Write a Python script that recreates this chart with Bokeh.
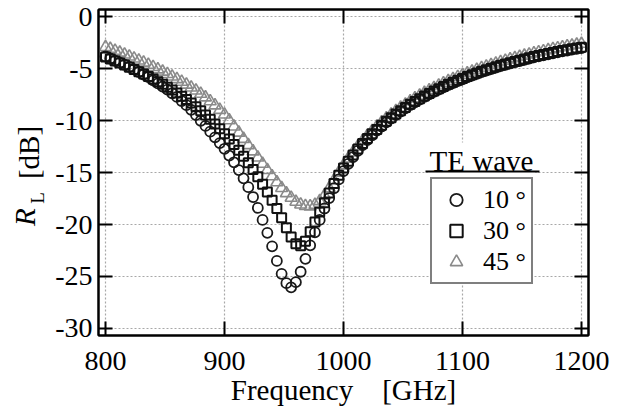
from bokeh.plotting import figure
from bokeh.layouts import row
from bokeh.models import (Range1d, FixedTicker, LinearAxis, Legend, LegendItem,
                          Label, BoxAnnotation)
from bokeh.core.properties import value
from bokeh.embed import file_html
from bokeh.resources import INLINE

# ---- data ----
freq = list(range(800, 1204, 4))  # GHz

rl_10 = [-3.80, -4.00, -4.20, -4.40, -4.60, -4.80, -5.05, -5.30, -5.55, -5.80,
         -6.10, -6.40, -6.70, -7.00, -7.35, -7.70, -8.10, -8.50, -8.95, -9.45,
         -10.00, -10.50, -11.05, -11.60, -12.15, -12.70, -13.35, -14.00, -14.75, -15.55,
         -16.40, -17.35, -18.40, -19.55, -20.80, -22.10, -23.50, -24.75, -25.65, -26.05,
         -25.55, -24.55, -23.30, -22.00, -20.75, -19.55, -18.45, -17.45, -16.50, -15.65,
         -14.85, -14.15, -13.50, -12.90, -12.35, -11.85, -11.40, -10.95, -10.55, -10.15,
         -9.80, -9.45, -9.12, -8.80, -8.50, -8.22, -7.95, -7.70, -7.45, -7.22,
         -7.00, -6.78, -6.57, -6.37, -6.18, -6.00, -5.82, -5.65, -5.48, -5.32,
         -5.17, -5.02, -4.88, -4.74, -4.61, -4.48, -4.36, -4.24, -4.12, -4.01,
         -3.90, -3.80, -3.70, -3.60, -3.50, -3.41, -3.32, -3.23, -3.15, -3.07,
         -2.99]

rl_30 = [-3.85, -4.04, -4.23, -4.43, -4.63, -4.84, -5.05, -5.27, -5.50, -5.74,
         -5.98, -6.23, -6.49, -6.76, -7.04, -7.33, -7.64, -7.96, -8.30, -8.66,
         -9.04, -9.44, -9.86, -10.30, -10.76, -11.24, -11.75, -12.28, -12.84, -13.43,
         -14.05, -14.70, -15.40, -16.12, -16.87, -17.65, -18.45, -19.35, -20.30, -21.20,
         -21.85, -22.05, -21.60, -20.70, -19.75, -18.80, -17.90, -16.95, -16.05, -15.25,
         -14.55, -13.90, -13.30, -12.73, -12.20, -11.71, -11.26, -10.83, -10.43, -10.05,
         -9.70, -9.36, -9.03, -8.72, -8.42, -8.14, -7.87, -7.62, -7.37, -7.14,
         -6.92, -6.70, -6.49, -6.29, -6.10, -5.92, -5.74, -5.57, -5.40, -5.24,
         -5.09, -4.94, -4.80, -4.66, -4.53, -4.40, -4.28, -4.16, -4.04, -3.93,
         -3.82, -3.72, -3.62, -3.52, -3.42, -3.33, -3.24, -3.15, -3.07, -2.99,
         -2.91]

rl_45 = [-2.90, -3.08, -3.26, -3.44, -3.62, -3.81, -4.00, -4.20, -4.40, -4.61,
         -4.83, -5.05, -5.27, -5.50, -5.74, -5.99, -6.25, -6.52, -6.80, -7.09,
         -7.40, -7.75, -8.12, -8.52, -8.95, -9.40, -9.95, -10.55, -11.15, -11.75,
         -12.35, -12.95, -13.55, -14.15, -14.75, -15.35, -15.93, -16.48, -16.98, -17.42,
         -17.80, -18.07, -18.22, -18.25, -18.10, -17.75, -17.20, -16.50, -15.75, -15.00,
         -14.30, -13.65, -13.05, -12.48, -11.95, -11.46, -11.00, -10.57, -10.16, -9.77,
         -9.41, -9.07, -8.74, -8.43, -8.13, -7.85, -7.58, -7.32, -7.07, -6.84,
         -6.61, -6.39, -6.18, -5.98, -5.79, -5.61, -5.43, -5.26, -5.09, -4.93,
         -4.78, -4.63, -4.49, -4.35, -4.22, -4.09, -3.97, -3.85, -3.73, -3.62,
         -3.51, -3.40, -3.30, -3.20, -3.10, -3.01, -2.92, -2.83, -2.75, -2.67,
         -2.59]

x_ticks = [800, 900, 1000, 1100, 1200]
y_ticks = [-30, -25, -20, -15, -10, -5, 0]
x_title = "Frequency\u00a0\u00a0\u00a0\u00a0[GHz]"
legend_title = "TE wave"
legend_labels = ["10 °", "30 °", "45 °"]

FONT = "Liberation Serif"
H = 408
STRIP = 52

# ---- narrow strip holding the y-axis title (R_L [dB]) ----
lab = figure(width=STRIP, height=H, output_backend="svg", toolbar_location=None,
             x_range=Range1d(0, STRIP), y_range=Range1d(0, H),
             x_axis_location=None, y_axis_location=None, min_border=0,
             background_fill_color="white", border_fill_color="white")
lab.outline_line_color = None
lab.grid.visible = False
lab.text(x=[24], y=[H - 260], text=["R"], angle=1.5708,
         text_font=value(FONT), text_font_style="italic",
         text_font_size="29px", text_align="center",
         text_baseline="middle", text_color="black")
lab.text(x=[37], y=[H - 236], text=["L"], angle=1.5708,
         text_font=value(FONT), text_font_size="19px", text_align="center",
         text_baseline="middle", text_color="black")
lab.text(x=[28], y=[H - 179], text=["[dB]"], angle=1.5708,
         text_font=value(FONT), text_font_size="29px", text_align="center",
         text_baseline="middle", text_color="black")

# ---- main plot ----
p = figure(width=612 - STRIP, height=H, output_backend="svg",
           toolbar_location=None,
           x_range=Range1d(794.1, 1205.9), y_range=Range1d(-30.69, 0.72),
           min_border_left=96 - STRIP, min_border_right=24, min_border_top=9,
           min_border_bottom=65, background_fill_color="white",
           border_fill_color="white")

p.outline_line_color = "black"
p.outline_line_width = 2

xt = FixedTicker(ticks=x_ticks)
yt = FixedTicker(ticks=y_ticks)


def style_axis(ax, ticker, ticks, show_labels):
    ax.ticker = ticker
    ax.axis_line_color = "black"
    ax.axis_line_width = 2
    ax.major_tick_in = 14
    ax.major_tick_out = 0
    ax.major_tick_line_width = 2
    ax.major_tick_line_color = "black"
    ax.minor_tick_line_color = None
    if show_labels:
        ax.major_label_text_font = FONT
        ax.major_label_text_font_size = "28px"
        ax.major_label_text_color = "black"
        ax.major_label_overrides = {t: str(t) for t in ticks}
    else:
        ax.major_label_overrides = {t: "" for t in ticks}
        ax.major_label_text_font_size = "1px"
        ax.major_label_standoff = 0


style_axis(p.xaxis[0], xt, x_ticks, True)
style_axis(p.yaxis[0], yt, y_ticks, True)
p.xaxis[0].major_label_standoff = 16
p.yaxis[0].major_label_standoff = 6

p.xaxis[0].axis_label = x_title
p.xaxis[0].axis_label_text_font = FONT
p.xaxis[0].axis_label_text_font_size = "29px"
p.xaxis[0].axis_label_text_font_style = "normal"
p.xaxis[0].axis_label_text_color = "black"
p.xaxis[0].axis_label_standoff = 1

top_ax = LinearAxis()
right_ax = LinearAxis()
style_axis(top_ax, xt, x_ticks, False)
style_axis(right_ax, yt, y_ticks, False)
p.add_layout(top_ax, "above")
p.add_layout(right_ax, "right")

for g, t in ((p.xgrid[0], xt), (p.ygrid[0], yt)):
    g.ticker = t
    g.grid_line_color = "#a8a8a8"
    g.grid_line_width = 1.2
    g.grid_line_dash = "2 2"

r45 = p.scatter(freq, rl_45, marker="triangle", size=12, fill_color=None,
                line_color="#8a8a8a", line_width=1.6)
r10 = p.scatter(freq, rl_10, marker="circle", size=10, fill_color=None,
                line_color="#1a1a1a", line_width=1.8)
r30 = p.scatter(freq, rl_30, marker="square", size=9, fill_color=None,
                line_color="#111111", line_width=2)

legend = Legend(items=[LegendItem(label=legend_labels[0], renderers=[r10]),
                       LegendItem(label=legend_labels[1], renderers=[r30]),
                       LegendItem(label=legend_labels[2], renderers=[r45])],
                location=(332, 51), margin=0, padding=5, spacing=-3,
                glyph_width=38, glyph_height=31, label_standoff=8,
                label_text_font=FONT, label_text_font_size="26px",
                label_text_color="black",
                border_line_color="black", border_line_width=2,
                background_fill_color="white", background_fill_alpha=1.0)
p.add_layout(legend)

# legend title above the box, with an underline
p.add_layout(Label(x=383, y=175, x_units="screen", y_units="screen",
                   text=legend_title, text_font=FONT, text_font_size="29px",
                   text_align="center", text_baseline="alphabetic",
                   text_color="black", background_fill_color="white",
                   padding=2))
p.add_layout(BoxAnnotation(left=327, right=441, bottom=163, top=165,
                           left_units="screen", right_units="screen",
                           bottom_units="screen", top_units="screen",
                           fill_color="black", fill_alpha=1.0,
                           line_color=None))

layout = row(lab, p)
open("out.html", "w").write(file_html(layout, INLINE))
